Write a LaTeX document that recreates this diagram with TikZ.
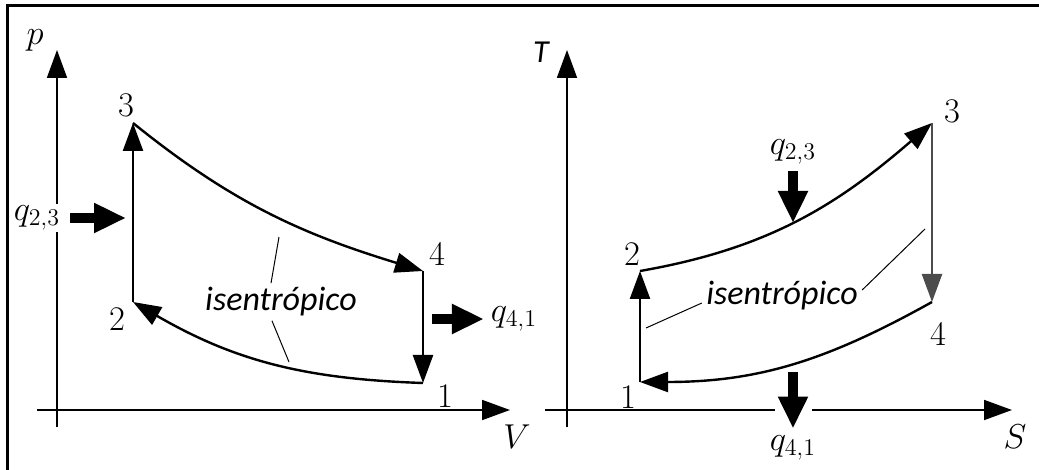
\documentclass[tikz,border=0pt]{standalone}
\usepackage{fontspec}
\newfontfamily\calibrifont{Carlito}
\usetikzlibrary{arrows.meta}

\begin{document}
\begin{tikzpicture}[x=0.5pt,y=-0.5pt,>={Triangle[length=14pt,width=10pt]},
  lbl/.style={font=\fontsize{17.28}{20}\selectfont},
  ax/.style={line width=0.9pt,->},
  cyc/.style={line width=1.2pt,->},
  heat/.style={line width=5pt,-{Triangle[length=16pt,width=14pt]}},
  lead/.style={line width=0.5pt},
  iso/.style={font=\calibrifont\itshape\fontsize{17}{20}\selectfont,inner sep=2pt}]
  \useasboundingbox (0,0) rectangle (1039,470);
  % frame
  \draw[line width=1.5pt] (7,470) -- (7,6) -- (1039,6);
  % p-V diagram
  \begin{scope}
    \draw[ax] (57,427) -- (57,50);
    \draw[ax] (37,410) -- (510,410);
    \node[lbl] (pL) at (35,40) {$p$};
    \node[lbl] (VL) at (517,437) {$V$};
    \coordinate (L1) at (423,383);
    \coordinate (L2) at (133,302);
    \coordinate (L3) at (133,123);
    \coordinate (L4) at (423,271);
    \draw[cyc] (L2) -- (L3);
    \draw[cyc] (L3) .. controls (232,203) and (302,234) .. (L4);
    \draw[cyc] (L4) -- (L1);
    \draw[cyc] (L1) .. controls (305,379) and (235,361) .. (L2);
    \node[lbl] (n1L) at (445,396) {1};
    \node[lbl] (n2L) at (117,319) {2};
    \node[lbl] (n3L) at (126,105) {3};
    \node[lbl] (n4L) at (437,254) {4};
    % heat in and out
    \node[lbl,fill=white,inner sep=1pt] (q23L) at (37,218) {$q_{2,3}$};
    \coordinate (h23L) at (126,218);
    \draw[heat,shorten <=4pt] (q23L) -- (h23L);
    \coordinate (h41L) at (432,319);
    \node[lbl] (q41L) at (514,319) {$q_{4,1}$};
    \draw[heat] (h41L) -- (q41L.west);
    % isentropic leaders
    \node[iso] (isoL) at (281,302) {isentrópico};
    \coordinate (cL1) at (279,237);
    \coordinate (cL2) at (289,362);
    \draw[lead] (cL1) -- ([xshift=-5pt]isoL.north);
    \draw[lead] ([xshift=-4.5pt]isoL.south) -- (cL2);
  \end{scope}
  % T-S diagram
  \begin{scope}
    \draw[ax] (567,427) -- (567,50);
    \draw[ax] (545,410) -- (1012,410);
    \fill[white] (775,403) rectangle (812,417);
    \node[font=\calibrifont\itshape\fontsize{16}{18}\selectfont] (TR) at (541,52) {T};
    \node[lbl] (SR) at (1015,437) {$S$};
    \coordinate (R1) at (640,382);
    \coordinate (R2) at (640,271);
    \coordinate (R3) at (932,123);
    \coordinate (R4) at (932,302);
    \draw[cyc] (R1) -- (R2);
    \draw[cyc] (R2) .. controls (766,249) and (835,207) .. (R3);
    \draw[cyc,gray!60!black] (R3) -- (R4);
    \draw[cyc] (R4) .. controls (828,360) and (759,382) .. (R1);
    \node[lbl] (n1R) at (628,397) {1};
    \node[lbl] (n2R) at (632,254) {2};
    \node[lbl] (n3R) at (952,111) {3};
    \node[lbl] (n4R) at (938,334) {4};
    % heat in and out
    \node[lbl] (q23R) at (793,152) {$q_{2,3}$};
    \coordinate (h23R) at (793,223);
    \draw[heat] (q23R) -- (h23R);
    \coordinate (h41R) at (793,372);
    \node[lbl] (q41R) at (793,448) {$q_{4,1}$};
    \draw[heat] (h41R) -- (q41R);
    % isentropic leaders
    \node[iso] (isoR) at (782,296) {isentrópico};
    \coordinate (cR1) at (646,328);
    \coordinate (cR2) at (925,229);
    \draw[lead] (cR1) -- ([yshift=-3.5pt]isoR.west);
    \draw[lead] ([yshift=3pt]isoR.east) -- (cR2);
  \end{scope}
\end{tikzpicture}
\end{document}
